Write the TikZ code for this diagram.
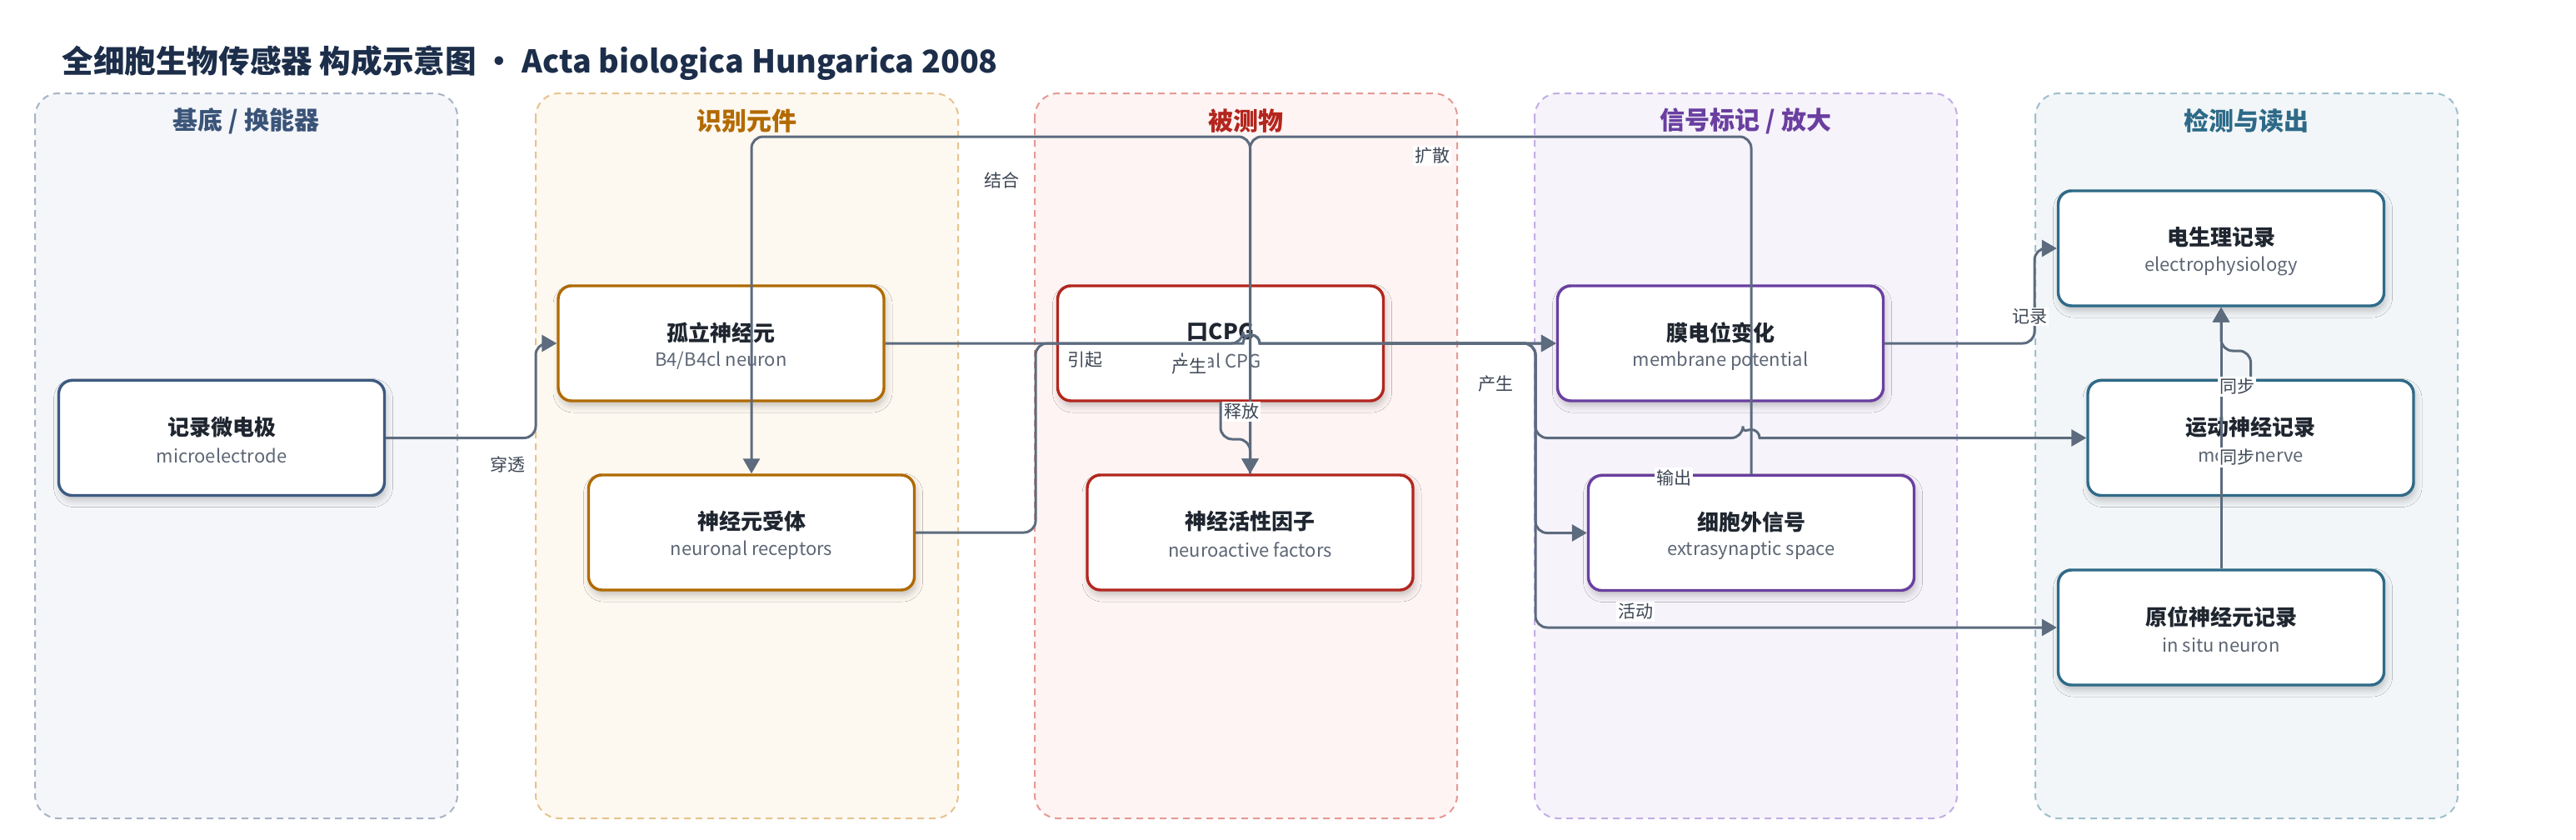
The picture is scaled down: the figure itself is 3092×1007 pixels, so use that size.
\documentclass[tikz,border=0pt]{standalone}
\usepackage{fontspec}
\setmainfont{Noto Sans CJK SC}
\usetikzlibrary{arrows.meta,shadows.blur}
\definecolor{edgec}{HTML}{5C6B7E}
\definecolor{titlec}{HTML}{1C2E4A}
\definecolor{labc}{HTML}{3D4654}
\definecolor{ntc}{HTML}{1F2630}
\definecolor{nsc}{HTML}{5D6675}
\definecolor{laneAf}{HTML}{F4F6FA}\definecolor{laneAd}{HTML}{A8B4C6}\definecolor{laneAh}{HTML}{3A5478}\definecolor{nodeA}{HTML}{3D5A80}
\definecolor{laneBf}{HTML}{FDF8F0}\definecolor{laneBd}{HTML}{E6C48E}\definecolor{laneBh}{HTML}{B26A00}\definecolor{nodeB}{HTML}{B06A00}
\definecolor{laneCf}{HTML}{FDF4F3}\definecolor{laneCd}{HTML}{E59A94}\definecolor{laneCh}{HTML}{B3261E}\definecolor{nodeC}{HTML}{B3261E}
\definecolor{laneDf}{HTML}{F6F3FB}\definecolor{laneDd}{HTML}{C4AEE3}\definecolor{laneDh}{HTML}{6A3FA0}\definecolor{nodeD}{HTML}{6A3FA0}
\definecolor{laneEf}{HTML}{F2F6F8}\definecolor{laneEd}{HTML}{9FBFCD}\definecolor{laneEh}{HTML}{2E6A88}\definecolor{nodeE}{HTML}{2E6A88}
\tikzset{
  lanebox/.style={rounded corners=14pt, line width=1pt, dash pattern=on 4pt off 3pt},
  lanehead/.style={font=\bfseries\fontsize{15}{18}\selectfont, inner sep=0pt},
  nbox/.style={rectangle, rounded corners=8pt, line width=1.7pt, fill=white, minimum width=195.5pt, minimum height=69pt, inner sep=0pt,
    blur shadow={shadow xshift=1pt, shadow yshift=-3pt, shadow blur radius=4pt, shadow opacity=22}},
  ntitle/.style={font=\bfseries\fontsize{13}{15}\selectfont, text=ntc, inner sep=0pt},
  nsub/.style={font=\fontsize{11}{13}\selectfont, text=nsc, inner sep=0pt},
  edge/.style={draw=edgec, line width=1.5pt, rounded corners=7pt, -{Triangle[length=9pt,width=10pt]}},
  elab/.style={fill=white, inner sep=1pt, font=\fontsize{10.5}{12}\selectfont, text=labc}
}
\newcommand\mybox[6]{%
  \node[nbox,draw=#4] (#1) at (#2,#3) {};
  \node[ntitle] (#1-t) at ([yshift=6.5pt]#1.center) {#5};
  \node[nsub] (#1-s) at ([yshift=-10.5pt]#1.center) {#6};
}
\begin{document}
\begin{tikzpicture}[x=0.5pt,y=-0.5pt]
\fill[white] (0,0) rectangle (3092,1007);
\useasboundingbox (0,0) rectangle (3092,1007);
% title
\node[anchor=west, inner sep=0pt, font=\bfseries\fontsize{18.8}{22}\selectfont, text=titlec] (title) at (74,76) {全细胞生物传感器 构成示意图 • Acta biologica Hungarica 2008};
% lanes
\draw[lanebox, fill=laneAf, draw=laneAd] (42,112) rectangle (549,982);
\draw[lanebox, fill=laneBf, draw=laneBd] (643,112) rectangle (1150,982);
\draw[lanebox, fill=laneCf, draw=laneCd] (1242,112) rectangle (1749,982);
\draw[lanebox, fill=laneDf, draw=laneDd] (1842,112) rectangle (2349,982);
\draw[lanebox, fill=laneEf, draw=laneEd] (2443,112) rectangle (2950,982);
\node[lanehead, text=laneAh] (hA) at (295.5,145) {基底 / 换能器};
\node[lanehead, text=laneBh] (hB) at (896.5,145) {识别元件};
\node[lanehead, text=laneCh] (hC) at (1495.5,145) {被测物};
\node[lanehead, text=laneDh] (hD) at (2095.5,145) {信号标记 / 放大};
\node[lanehead, text=laneEh] (hE) at (2696.5,145) {检测与读出};
% nodes
\mybox{micro}{266}{525.5}{nodeA}{记录微电极}{microelectrode}
\mybox{iso}{865.5}{412}{nodeB}{孤立神经元}{B4/B4cl neuron}
\mybox{rec}{902}{639}{nodeB}{神经元受体}{neuronal receptors}
\mybox{cpg}{1465}{412}{nodeC}{口CPG}{local CPG}
\mybox{nfac}{1500.5}{639}{nodeC}{神经活性因子}{neuroactive factors}
\mybox{mem}{2065}{412}{nodeD}{膜电位变化}{membrane potential}
\mybox{extra}{2102}{639.5}{nodeD}{细胞外信号}{extrasynaptic space}
\mybox{elec}{2666}{298}{nodeE}{电生理记录}{electrophysiology}
\mybox{motor}{2701.5}{525.5}{nodeE}{运动神经记录}{motor nerve}
\mybox{insitu}{2666}{753}{nodeE}{原位神经元记录}{in situ neuron}
% edges
\draw[edge] (micro.east) -- (643,525.5) -- (643,412) -- (iso.west);
\draw[edge] (nfac.north) -- (1500.5,164) -- (902,164) -- (rec.north);
\draw[edge] (extra.north) -- (2102,164) -- (1500.5,164) -- (nfac.north);
\draw[edge] (cpg.south) -- (1465,527) -- (1500.5,527) -- (nfac.north);
\draw[edge, sharp corners] (iso.east) -- (1492,412) arc[start angle=180, end angle=0, radius=5pt] -- (mem.west);
\draw[edge] (rec.east) -- (1243,639) -- (1243,412) -- (1492,412) [sharp corners] arc[start angle=180, end angle=0, radius=5pt] -- (mem.west);
\draw[edge] (cpg.east) -- (1843,412) -- (1843,525.5) -- (2092,525.5) [sharp corners] arc[start angle=180, end angle=0, radius=5pt] -- (motor.west);
\draw[edge] (cpg.east) -- (1843,412) -- (1843,639.5) -- (extra.west);
\draw[edge] (cpg.east) -- (1843,412) -- (1843,753) -- (insitu.west);
\draw[edge] (mem.east) -- (2442,412) -- (2442,298) -- (elec.west);
\draw[edge] (motor.north) -- (2701.5,421) -- (2666,421) -- (elec.south);
\draw[edge] (insitu.north) -- (elec.south);
% edge labels
\node[elab] (lb1) at (609,557) {穿透};
\node[elab] (lb2) at (1202,216) {结合};
\node[elab] (lb3) at (1719,187) {扩散};
\node[elab] (lb4) at (1302,432) {引起};
\node[elab] (lb5) at (1427,440) {产生};
\node[elab] (lb6) at (1490,494) {释放};
\node[elab] (lb7) at (1795,461) {产生};
\node[elab] (lb8) at (2009,573) {输出};
\node[elab] (lb9) at (1963,734) {活动};
\node[elab] (lb10) at (2436,380) {记录};
\node[elab] (lb11) at (2685,464) {同步};
\node[elab] (lb12) at (2685,549) {同步};
\end{tikzpicture}
\end{document}
